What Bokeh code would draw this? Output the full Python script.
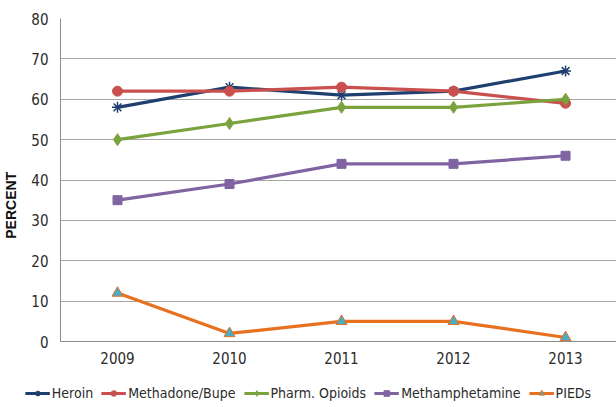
from bokeh.plotting import figure
from bokeh.layouts import column
from bokeh.models import Range1d, FixedTicker, Legend, LegendItem
from bokeh.embed import file_html
from bokeh.resources import INLINE

years = ["2009", "2010", "2011", "2012", "2013"]
heroin = [58, 63, 61, 62, 67]
methadone = [62, 62, 63, 62, 59]
pharm = [50, 54, 58, 58, 60]
meth = [35, 39, 44, 44, 46]
pieds = [12, 2, 5, 5, 1]
y_ticks = [0, 10, 20, 30, 40, 50, 60, 70, 80]

FONT = "DejaVu Sans Condensed"
xs = list(range(len(years)))

p = figure(width=616, height=366, output_backend="svg", toolbar_location=None,
           x_range=Range1d(-0.509, 4.455), y_range=Range1d(0, 80),
           min_border_left=60, min_border_right=0, min_border_top=18,
           min_border_bottom=25)
p.background_fill_color = "white"
p.border_fill_color = "white"
p.outline_line_color = None

p.xaxis.ticker = FixedTicker(ticks=xs)
p.xaxis.major_label_overrides = {i: y for i, y in enumerate(years)}
p.yaxis.ticker = FixedTicker(ticks=y_ticks)
for ax in (p.xaxis, p.yaxis):
    ax.major_tick_line_color = None
    ax.minor_tick_line_color = None
    ax.axis_line_color = "#8c8c8c"
    ax.major_label_text_font = FONT
    ax.major_label_text_font_size = "15px"
    ax.major_label_text_color = "#2b2b2b"
p.xaxis.major_label_standoff = 4
p.yaxis.major_label_standoff = 6
p.yaxis.axis_label = "PERCENT" + "\u00a0" * 13
p.yaxis.axis_label_text_font = "Liberation Sans"
p.yaxis.axis_label_text_font_style = "bold"
p.yaxis.axis_label_text_font_size = "14px"
p.yaxis.axis_label_text_color = "#111111"
p.yaxis.axis_label_standoff = 9
p.xgrid.grid_line_color = None
p.ygrid.grid_line_color = "#a6a6a6"
p.ygrid.grid_line_width = 1

series = [
    ("Heroin", heroin, "#1f3f6e", "asterisk", "#1f3f6e", "#1f3f6e", 11),
    ("Methadone/Bupe", methadone, "#c9504e", "circle", "#c9504e", "#c9504e", 10),
    ("Pharm. Opioids", pharm, "#7aa33d", "diamond", "#7aa33d", "#7aa33d", 12),
    ("Methamphetamine", meth, "#8064a2", "square", "#8064a2", "#8064a2", 9),
    ("PIEDs", pieds, "#e8711f", "triangle", "#4bacc6", "#e8711f", 11),
]

# legend strip below the chart (its renderers sit outside its visible ranges)
lg = figure(frame_width=616, frame_height=41, output_backend="svg", toolbar_location=None,
            x_range=Range1d(100, 101), y_range=Range1d(100, 101),
            x_axis_location=None, y_axis_location=None,
            min_border_left=0, min_border_right=0, min_border_top=0,
            min_border_bottom=0)
lg.outline_line_color = None
lg.grid.visible = False
lg.background_fill_color = "white"
lg.border_fill_color = "white"

items = []
for name, vals, col, mk, fill, ln, sz in series:
    lw = 1.5 if mk == "asterisk" else 1
    p.line(xs, vals, line_color=col, line_width=3.2)
    p.scatter(xs, vals, marker=mk, size=sz, fill_color=fill, line_color=ln, line_width=lw)
    r1 = lg.line(xs, vals, line_color=col, line_width=3.2)
    r2 = lg.scatter(xs, vals, marker=mk, size=sz - 3, fill_color=fill, line_color=ln, line_width=lw)
    items.append(LegendItem(label=name, renderers=[r1, r2]))

legend = Legend(items=items, orientation="horizontal", location="bottom",
                label_text_font=FONT, label_text_font_size="14px",
                label_text_color="#2b2b2b", glyph_width=25, glyph_height=14,
                label_standoff=2, spacing=8, padding=4, margin=6,
                border_line_color=None, background_fill_alpha=0)
lg.add_layout(legend, "center")

open("out.html", "w").write(file_html(column(p, lg, spacing=0), INLINE))
